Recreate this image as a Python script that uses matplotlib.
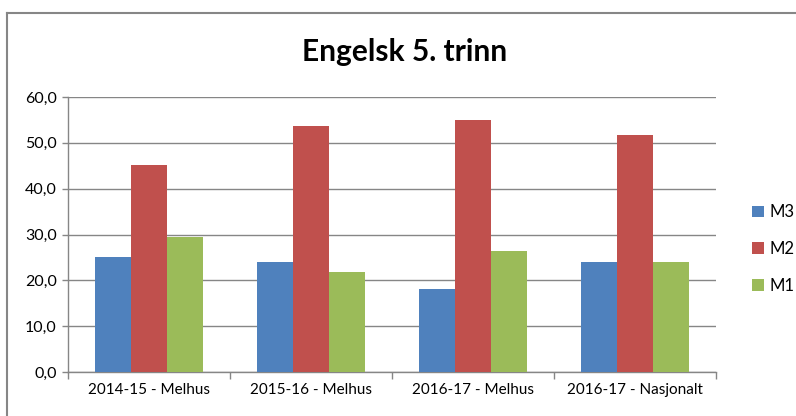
import matplotlib
matplotlib.use("Agg")
import matplotlib.pyplot as plt
import numpy as np
from matplotlib.lines import Line2D

plt.rcParams['font.family'] = ['Lato', 'DejaVu Sans']

categories = ["2014-15 - Melhus", "2015-16 - Melhus", "2016-17 - Melhus", "2016-17 - Nasjonalt"]
series_names = ["M3", "M2", "M1"]
m3 = [25.0, 24.1, 18.2, 23.9]
m2 = [45.2, 53.7, 55.0, 51.8]
m1 = [29.5, 21.8, 26.5, 24.1]
colors = ["#4F81BD", "#C0504D", "#9BBB59"]
title = "Engelsk 5. trinn"
yticks = [0, 10, 20, 30, 40, 50, 60]

fig = plt.figure(figsize=(7.96, 4.16), dpi=100)
ax = fig.add_axes([68/796, 1-372/416, (716-68)/796, (372-97)/416])

x = np.arange(len(categories))
w = 36/162
for i, (vals, name, c) in enumerate(zip([m3, m2, m1], series_names, colors)):
    ax.bar(x + (i-1)*w, vals, width=w, color=c, label=name, zorder=3)

grid_c = "#868686"
ax.set_xlim(-0.5, len(categories)-0.5)
ax.set_ylim(0, 60)
ax.set_yticks(yticks)
ax.set_yticklabels([f"{v:.1f}".replace(".", ",") for v in yticks], fontsize=11.5)
ax.yaxis.grid(True, color=grid_c, linewidth=1.0, zorder=0)
ax.set_xticks(np.arange(-0.5, len(categories), 1.0))
ax.set_xticklabels([])
ax.set_xticks(x, minor=True)
ax.set_xticklabels(categories, minor=True, fontsize=11)
ax.tick_params(axis='x', which='major', length=5, color=grid_c, width=1)
ax.tick_params(axis='x', which='minor', length=0, pad=8)
ax.tick_params(axis='y', length=4, color=grid_c, width=1, pad=4)
for s in ['top', 'right']:
    ax.spines[s].set_visible(False)
for s in ['left', 'bottom']:
    ax.spines[s].set_color(grid_c)
    ax.spines[s].set_linewidth(1.0)

fig.text(405/796, 1-52/416, title, ha='center', va='center', fontsize=21.5, fontweight='bold')

leg = fig.legend(loc='center left', bbox_to_anchor=(744/796, 1-249/416), frameon=False,
                 fontsize=12, handlelength=0.7, handleheight=0.7, handletextpad=0.35,
                 labelspacing=1.25, borderpad=0)

# outer chart frame
fig.add_artist(Line2D([6.5/796, 6.5/796], [0, 1-13/416], transform=fig.transFigure, color=grid_c, linewidth=1.5))
fig.add_artist(Line2D([6.5/796, 1], [1-13/416, 1-13/416], transform=fig.transFigure, color=grid_c, linewidth=1.5))

fig.savefig("out.png", dpi=100)
